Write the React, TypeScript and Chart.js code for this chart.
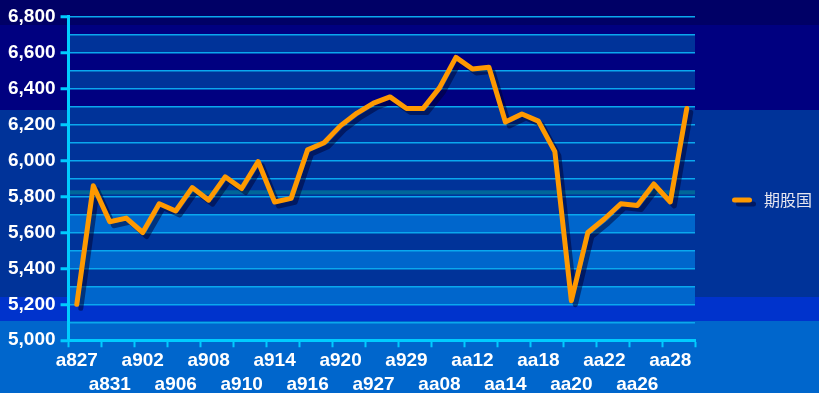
import React, { useEffect, useRef } from 'react';
import { Chart, registerables } from 'chart.js';

Chart.register(...registerables);

// ---- data ----
const categories = [
  'a827', 'a828', 'a831', 'a901', 'a902', 'a905', 'a906', 'a907', 'a908', 'a909',
  'a910', 'a913', 'a914', 'a915', 'a916', 'a919', 'a920', 'a926', 'a927', 'a928',
  'a929', 'aa07', 'aa08', 'aa11', 'aa12', 'aa13', 'aa14', 'aa15', 'aa18', 'aa19',
  'aa20', 'aa21', 'aa22', 'aa25', 'aa26', 'aa27', 'aa28', 'aa29',
];
const seriesName = '期股国';
const seriesValues = [
  5200, 5860, 5660, 5680, 5600, 5760, 5720, 5850, 5780, 5910,
  5845, 5995, 5770, 5790, 6060, 6100, 6195, 6265, 6320, 6355,
  6290, 6290, 6405, 6575, 6510, 6520, 6215, 6260, 6220, 6050,
  5220, 5600, 5675, 5760, 5750, 5870, 5770, 6290,
];
const yMin = 5000;
const yMax = 6800;
const yGridStep = 100;
const yLabelStep = 200;
// plot-area stripe bands (value ranges) and their colours
const stripeLows = [6600, 6400, 6200, 5600, 5400, 5200, 5812];
const stripeHighs = [6700, 6500, 6300, 5700, 5500, 5300, 5835];
const stripeColors = ['#003399', '#003399', '#003399', '#0066cc', '#0066cc', '#0066cc', '#006699'];

const AXIS = '#00ccff';
const GRID = '#0aa8ee';
const LINE = '#ff9900';
const SHADOW = 'rgba(0,0,45,0.5)';
const FONT = 'Arial, "Liberation Sans", sans-serif';

const stripePlugin = {
  id: 'stripes',
  beforeDraw(chart: any) {
    const { ctx, chartArea: a, scales } = chart;
    const y = scales.y;
    ctx.save();
    for (let i = 0; i < stripeLows.length; i++) {
      const y1 = y.getPixelForValue(stripeHighs[i]);
      const y2 = y.getPixelForValue(stripeLows[i]);
      ctx.fillStyle = stripeColors[i];
      ctx.fillRect(a.left, y1, a.right - a.left, y2 - y1);
    }
    ctx.restore();
  },
};

const shadowPlugin = {
  id: 'lineShadow',
  beforeDatasetsDraw(chart: any) {
    const ctx = chart.ctx;
    ctx.save();
    ctx.shadowColor = SHADOW;
    ctx.shadowOffsetX = 4;
    ctx.shadowOffsetY = 4;
    ctx.shadowBlur = 0;
  },
  afterDatasetsDraw(chart: any) {
    chart.ctx.restore();
  },
};

export default function App() {
  const ref = useRef<HTMLCanvasElement>(null);

  useEffect(() => {
    if (!ref.current) return;
    // legend symbol: short thick line with drop shadow
    const icon = document.createElement('canvas');
    icon.width = 28;
    icon.height = 18;
    const ic = icon.getContext('2d')!;
    ic.lineCap = 'round';
    ic.lineWidth = 5;
    ic.strokeStyle = SHADOW;
    ic.beginPath();
    ic.moveTo(10.5, 13);
    ic.lineTo(25.5, 13);
    ic.stroke();
    ic.strokeStyle = LINE;
    ic.beginPath();
    ic.moveTo(6.5, 9);
    ic.lineTo(21.5, 9);
    ic.stroke();

    const chart = new Chart(ref.current, {
      type: 'line',
      data: {
        labels: categories,
        datasets: [
          {
            label: seriesName,
            data: seriesValues,
            borderColor: LINE,
            backgroundColor: LINE,
            borderWidth: 5,
            borderJoinStyle: 'round',
            borderCapStyle: 'round',
            pointRadius: 0,
            pointHoverRadius: 0,
            tension: 0,
            fill: false,
          },
        ],
      },
      options: {
        responsive: false,
        animation: false,
        layout: { padding: { top: 2, left: 3, right: 0, bottom: -5 } },
        plugins: {
          tooltip: { enabled: false },
          legend: {
            position: 'right',
            align: 'center',
            maxWidth: 124,
            labels: {
              usePointStyle: true,
              pointStyle: icon as any,
              pointStyleWidth: 28,
              padding: 33,
              color: '#e6e6f0',
              font: { size: 16, family: '"Noto Sans CJK SC", sans-serif' },
            },
          },
        },
        scales: {
          x: {
            offset: true,
            grid: {
              offset: true,
              drawOnChartArea: false,
              drawTicks: true,
              tickLength: 7,
              tickWidth: 2,
              tickColor: (c: any) => (c.type !== 'tick' || c.index % 2 === 0 ? AXIS : 'transparent'),
            },
            border: { display: true, color: AXIS, width: 3 },
            ticks: {
              autoSkip: false,
              maxRotation: 0,
              minRotation: 0,
              padding: 2,
              color: '#ffffff',
              font: { family: FONT, size: 19, weight: 'bold', lineHeight: 1.23 },
              callback: (_v: any, i: number) => {
                if (i % 2 !== 0) return '';
                return (i / 2) % 2 === 0 ? categories[i] : ['', categories[i]];
              },
            },
          },
          y: {
            min: yMin,
            max: yMax,
            grid: {
              color: GRID,
              lineWidth: 1.5,
              tickLength: 8,
              tickWidth: 3,
              tickColor: (c: any) => (c.tick && c.tick.value % yLabelStep === 0 ? AXIS : 'transparent'),
            },
            border: { display: true, color: AXIS, width: 3 },
            ticks: {
              stepSize: yGridStep,
              autoSkip: false,
              padding: 5,
              color: '#ffffff',
              font: { family: FONT, size: 19, weight: 'bold', lineHeight: 1.26 },
              callback: (v: any) => (Number(v) % yLabelStep === 0 ? Number(v).toLocaleString('en-US') : ''),
            },
          },
        },
      },
      plugins: [stripePlugin, shadowPlugin],
    });
    return () => chart.destroy();
  }, []);

  return (
    <div
      style={{
        position: 'fixed',
        left: 0,
        top: 0,
        width: 819,
        height: 393,
        background:
          'linear-gradient(to bottom, #000066 0px, #000066 25px, #000080 25px, #000080 110px, #003399 110px, #003399 297px, #0033cc 297px, #0033cc 321px, #0066cc 321px, #0066cc 100%)',
      }}
    >
      <canvas ref={ref} width={819} height={393} style={{ display: 'block' }} />
    </div>
  );
}
